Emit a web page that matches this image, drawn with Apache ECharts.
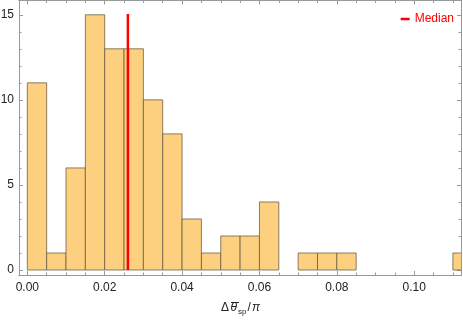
<!DOCTYPE html>
<html><head><meta charset="utf-8">
<script src="https://cdn.jsdelivr.net/npm/echarts@6/dist/echarts.min.js"></script>
<style>html,body{margin:0;padding:0;background:#fff}#c{width:463px;height:321px}</style>
</head><body><div id="c"></div>
<script>
const binStart = [0,0.005,0.01,0.015,0.02,0.025,0.03,0.035,0.04,0.045,0.05,0.055,0.06,0.065,0.07,0.075,0.08,0.11];
const counts   = [11,1,6,15,13,13,10,8,3,1,2,2,4,0,1,1,1,1];
const binWidth = 0.005;
const median = 0.026;
const medianTop = 15.05;
const xMajor = [0,0.02,0.04,0.06,0.08,0.10];
const xMinor = [];
for (let i = 0; i <= 22; i++) xMinor.push(+(i*0.005).toFixed(3));
const yMajor = [0,5,10,15];
const yMinor = [0,1,2,3,4,5,6,7,8,9,10,11,12,13,14,15];

const XMIN = -0.00215, XMAX = 0.1121, YMIN = -0.293, YMAX = 15.84;
const axisCol = '#999999';
const font = 'Liberation Sans, Arial, sans-serif';
const txtCol = '#222';

function xAx(pos, vals, len, labels){
  return {type:'value', position:pos, min:XMIN, max:XMAX,
    axisLine:{show:true, onZero:false, lineStyle:{color:axisCol, width:1}},
    axisTick:{show:true, inside:true, length:len, customValues:vals, lineStyle:{color:axisCol}},
    axisLabel:{show:labels, customValues:xMajor, formatter:v=>v.toFixed(2), color:txtCol, fontSize:12, fontFamily:font, margin:7},
    splitLine:{show:false}};
}
function yAx(pos, vals, len, labels){
  return {type:'value', position:pos, min:YMIN, max:YMAX,
    axisLine:{show:true, onZero:false, lineStyle:{color:axisCol, width:1}},
    axisTick:{show:true, inside:true, length:len, customValues:vals, lineStyle:{color:axisCol}},
    axisLabel:{show:labels, customValues:yMajor, color:txtCol, fontSize:12, fontFamily:font, margin:5},
    splitLine:{show:false}};
}
const xAxes = [xAx('bottom', xMajor, 4, true), xAx('bottom', xMinor, 2.5, false), xAx('top', xMajor, 4, false), xAx('top', xMinor, 2.5, false)];
const yAxes = [yAx('left', yMajor, 4, true), yAx('left', yMinor, 2.5, false), yAx('right', yMajor, 4, false), yAx('right', yMinor, 2.5, false)];

// axis title: Δ θ̄_sp / π
const titleParts = {delta:'Δ', theta:'θ', sub:'sp', slash:'/', pi:'π'};
const ty = 308;
const chart = echarts.init(document.getElementById('c'), null, {renderer:'canvas'});
chart.setOption({
  animation:false,
  grid:{left:19, right:2, top:0.5, bottom:46, containLabel:false, outerBoundsMode:'none'},
  xAxis:xAxes, yAxis:yAxes,
  legend:{data:[{name:'Median', icon:'rect'}], right:4, top:8, itemWidth:9, itemHeight:2.5, itemGap:6,
    textStyle:{color:'#ff0000', fontSize:12, fontFamily:font}},
  graphic:[
    {type:'text', x:221, y:ty, style:{text:titleParts.delta, font:'12px '+font, fill:txtCol, verticalAlign:'middle'}},
    {type:'text', x:230.5, y:ty, style:{text:titleParts.theta, font:'italic 12px '+font, fill:txtCol, verticalAlign:'middle'}},
    {type:'line', shape:{x1:231, y1:302.5, x2:239, y2:302.5}, style:{stroke:txtCol, lineWidth:1}},
    {type:'text', x:238, y:ty+4, style:{text:titleParts.sub, font:'8px '+font, fill:txtCol, verticalAlign:'middle'}},
    {type:'text', x:247.5, y:ty, style:{text:titleParts.slash, font:'12px '+font, fill:txtCol, verticalAlign:'middle'}},
    {type:'text', x:252, y:ty, style:{text:titleParts.pi, font:'italic 12px '+font, fill:txtCol, verticalAlign:'middle'}}
  ],
  series:[
    {type:'custom', name:'hist', xAxisIndex:0, yAxisIndex:0, clip:true,
     data: binStart.map((b,i)=>[b, counts[i]]),
     renderItem:function(params, api){
       const x0 = api.value(0), c = api.value(1);
       if (!c) return null;
       const p0 = api.coord([x0, 0]);
       const p1 = api.coord([x0 + binWidth, c]);
       return {type:'rect', shape:{x:p0[0], y:p1[1], width:p1[0]-p0[0], height:p0[1]-p1[1]},
         style:{fill:'#FDD080', stroke:'rgba(100,88,64,0.75)', lineWidth:1}};
     }},
    {type:'line', name:'Median', xAxisIndex:0, yAxisIndex:0, data:[[median,0],[median,medianTop]],
     symbol:'none', lineStyle:{color:'#ff0000', width:2.5}, itemStyle:{color:'#ff0000'}}
  ]
});
</script></body></html>
